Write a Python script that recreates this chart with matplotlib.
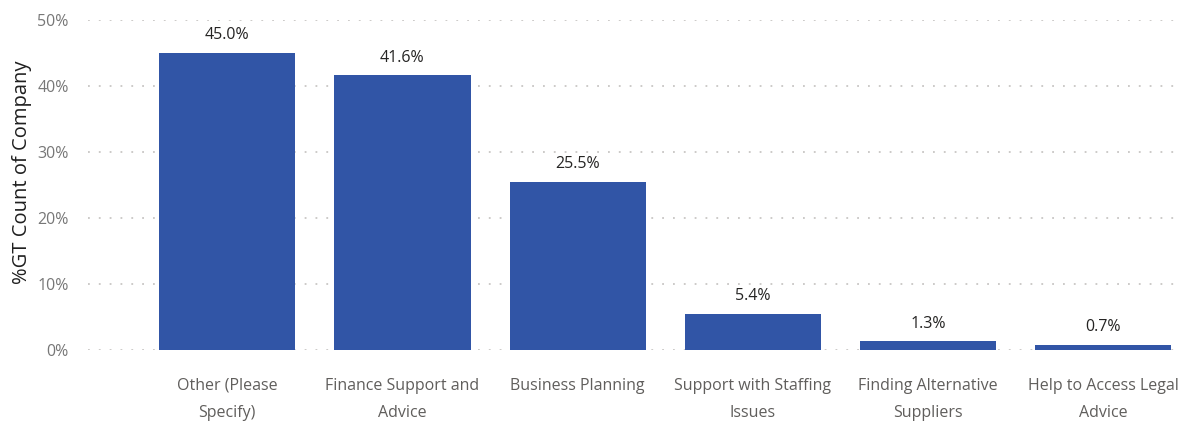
import matplotlib.pyplot as plt
from matplotlib.ticker import FuncFormatter

plt.rcParams['font.family'] = ['Open Sans', 'DejaVu Sans']

# Категории и доли
categories = [
    "Other (Please\nSpecify)",
    "Finance Support and\nAdvice",
    "Business Planning",
    "Support with Staffing\nIssues",
    "Finding Alternative\nSuppliers",
    "Help to Access Legal\nAdvice",
]
share = [45.0, 41.6, 25.5, 5.4, 1.3, 0.7]
y_ticks = [0, 10, 20, 30, 40, 50]

bar_color = '#3155A6'

fig = plt.figure(figsize=(11.9, 4.23), dpi=100)
ax = fig.add_axes([0.074, 0.1726, 0.918, 0.78])

x = range(len(categories))
ax.bar(x, share, width=0.777, color=bar_color, zorder=3)

# подписи значений над столбцами
for xi, v in zip(x, share):
    ax.text(xi, v + 1.5, f"{v:.1f}%", ha='center', va='bottom',
            fontsize=11.5, color='#252423')

ax.set_xlim(-0.794, 5.44)
ax.set_ylim(0, 50)
ax.set_yticks(y_ticks)
ax.yaxis.set_major_formatter(FuncFormatter(lambda v, p: f"{v:.0f}%"))
ax.set_xticks(list(x))
ax.set_xticklabels(categories, fontsize=11.5, color='#605E5C', linespacing=1.95)
ax.tick_params(axis='y', labelsize=11.5, labelcolor='#777777', length=0, pad=14)
ax.tick_params(axis='x', length=0, pad=20)

ax.grid(axis='y', color='#C8C6C4', linestyle=(0, (1, 5)), linewidth=1.3, zorder=0)
for s in ax.spines.values():
    s.set_visible(False)

ax.set_ylabel("%GT Count of Company", fontsize=14.5, color='#1F1F1F')
ax.yaxis.set_label_coords(-0.051, 0.54)

fig.savefig('out.png', dpi=100)
